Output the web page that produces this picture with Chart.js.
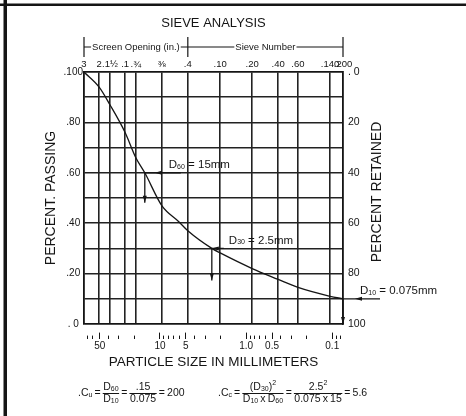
<!DOCTYPE html>
<html>
<head>
<meta charset="utf-8">
<title>Sieve Analysis</title>
<script src="https://cdn.jsdelivr.net/npm/chart.js@4.4.1/dist/chart.umd.min.js"></script>
<style>
  html, body { margin: 0; padding: 0; background: #fff; }
  #wrap { width: 466px; height: 416px; position: relative; }
</style>
</head>
<body>
<div id="wrap"><canvas id="sieve-chart"></canvas></div>
<script>
// =============================
// DATA
// =============================

// particle size (mm) and percent passing
const sizes = [76.2, 50.8, 38.1, 25.4, 19.05, 15, 9.525, 6, 4.75, 2.5, 2.0, 0.85, 0.425, 0.25, 0.106, 0.075];
const passing = [100, 94, 87, 76, 66, 60, 47, 40.5, 37, 30, 28.2, 22, 17.7, 14.5, 11, 10];

// sieve openings (mm) for the vertical grid and their labels on top
const sieveSizes = [76.2, 50.8, 38.1, 25.4, 19.05, 9.525, 4.75, 2.0, 0.85, 0.425, 0.25, 0.106, 0.075];
const sieveLabels = ["3", "2", ".1½", ".1", ".¾", "⅜", ".4", ".10", ".20", ".40", ".60", ".140", ".200"];

// millimetre scale under the plot
const mmTicks = [70, 60, 50, 40, 30, 20, 10, 9, 8, 7, 6, 5, 4, 3, 2, 1, 0.9, 0.8, 0.7, 0.6, 0.5, 0.4, 0.3, 0.2, 0.1, 0.09, 0.08];
const mmMajor = [50, 10, 5, 1, 0.5, 0.1];
const mmLabels = ["50", "10", "5", "1.0", "0.5", "0.1"];

// percent axes
const passingLabels = [". 0", ".20", ".40", ".60", ".80", ".100"];
const retainedLabels = [". 0", "20", "40", "60", "80", "100"];

// D10, D30, D60
const dNames = ["60", "30", "10"];
const dSizes = [15, 2.5, 0.075];
const dPercents = [60, 30, 10];
const dTexts = [" = 15mm", " = 2.5mm", " = 0.075mm"];

// =============================
// STYLE
// =============================

const INK = "#151515";
const GRID = "#222222";
const FONT = "'Liberation Sans', Arial, sans-serif";
const TITLE_PAD = 16;
const TITLE_SIZE = 13;
const EQ = "\u2009=\u2009";
const TIMES = "\u2009x\u2009";

// =============================
// TEXT HELPERS
// =============================

function run(ctx, parts, x, y) {
    parts.forEach(p => {
        ctx.font = p[1] + "px " + FONT;
        ctx.fillText(p[0], x, y + (p[2] || 0));
        x += ctx.measureText(p[0]).width;
    });
    return x;
}

function runWidth(ctx, parts) {
    let w = 0;
    parts.forEach(p => {
        ctx.font = p[1] + "px " + FONT;
        w += ctx.measureText(p[0]).width;
    });
    return w;
}

function frac(ctx, top, bottom, x, y) {
    const wt = runWidth(ctx, top);
    const wb = runWidth(ctx, bottom);
    const w = Math.max(wt, wb) + 1;
    run(ctx, top, x + (w - wt) / 2, y - 6);
    run(ctx, bottom, x + (w - wb) / 2, y + 6);
    ctx.beginPath();
    ctx.moveTo(x, y + 0.5);
    ctx.lineTo(x + w, y + 0.5);
    ctx.stroke();
    return x + w;
}

function arrowHead(ctx, x, y, dir) {
    ctx.beginPath();
    ctx.moveTo(x, y);
    if (dir === "left") {
        ctx.lineTo(x + 7, y - 2);
        ctx.lineTo(x + 7, y + 2);
    } else {
        ctx.lineTo(x - 2, y - 7);
        ctx.lineTo(x + 2, y - 7);
    }
    ctx.closePath();
    ctx.fill();
}

// =============================
// EXTRA DRAWING
// =============================

const sheetPlugin = {
    id: "sheet",
    beforeDraw(chart) {
        const ctx = chart.ctx;
        ctx.save();
        ctx.fillStyle = INK;
        ctx.fillRect(3.5, 0, 3.5, chart.height);
        ctx.fillRect(0, 3.5, chart.width, 2.5);
        ctx.restore();
    },
    afterDraw(chart) {
        const ctx = chart.ctx;
        const xs = chart.scales.xs;
        const x = chart.scales.x;
        const y = chart.scales.y;
        const area = chart.chartArea;

        ctx.save();
        ctx.fillStyle = INK;
        ctx.strokeStyle = INK;
        ctx.textBaseline = "middle";

        // bracket: screen opening / sieve number
        const b0 = xs.getPixelForValue(76.2);
        const b1 = xs.getPixelForValue(4.75);
        const b2 = xs.getPixelForValue(0.075);
        const by = 47;
        ctx.lineWidth = 1.2;
        [b0, b1, b2].forEach(bx => {
            ctx.beginPath();
            ctx.moveTo(bx, by - 10);
            ctx.lineTo(bx, by + 10);
            ctx.stroke();
        });
        ctx.font = "9.5px " + FONT;
        ctx.textAlign = "center";
        [["Screen Opening (in.)", b0, b1], ["Sieve Number", b1, b2]].forEach(s => {
            const w = ctx.measureText(s[0]).width;
            const c = (s[1] + s[2]) / 2;
            ctx.fillText(s[0], c, by);
            ctx.beginPath();
            ctx.moveTo(s[1], by);
            ctx.lineTo(c - w / 2 - 1, by);
            ctx.moveTo(c + w / 2 + 1, by);
            ctx.lineTo(s[2], by);
            ctx.stroke();
        });

        // right axis title, reading upward like the left one
        ctx.save();
        ctx.translate(377, (area.top + area.bottom) / 2 - 6);
        ctx.rotate(-Math.PI / 2);
        ctx.font = "14px " + FONT;
        ctx.fillText("PERCENT RETAINED", 0, 0);
        ctx.restore();

        // D60 / D30 / D10 markers
        const hLen = [36, 12, 37];
        const hHead = [10, 0, 12];
        const vLen = [30, 32, 0];
        ctx.textAlign = "left";
        ctx.lineWidth = 1.3;
        dSizes.forEach((d, i) => {
            const px = x.getPixelForValue(d);
            const py = y.getPixelForValue(dPercents[i]);
            const vEnd = vLen[i] ? py + vLen[i] : area.bottom;
            ctx.beginPath();
            ctx.moveTo(px, py);
            ctx.lineTo(px + hLen[i], py);
            ctx.moveTo(px, py);
            ctx.lineTo(px, vEnd);
            ctx.stroke();
            arrowHead(ctx, px + hHead[i], py, "left");
            arrowHead(ctx, px, vEnd, "down");
            run(ctx, [["D", 11.5], [dNames[i], 7, 2], [dTexts[i], 11.5]], px + 17 + (i === 0 ? 7 : 0), py - 8);
        });

        // uniformity and curvature coefficients
        ctx.lineWidth = 1;
        const fy = 393;
        let fx = 78;
        fx = run(ctx, [[".C", 10.5], ["u", 7, 2], [EQ, 10.5]], fx, fy);
        fx = frac(ctx, [["D", 10.5], ["60", 7, 2]], [["D", 10.5], ["10", 7, 2]], fx, fy);
        fx = run(ctx, [[EQ, 10.5]], fx, fy);
        fx = frac(ctx, [[".15", 10.5]], [["0.075", 10.5]], fx, fy);
        run(ctx, [[EQ + "200", 10.5]], fx, fy);

        fx = 218;
        fx = run(ctx, [[".C", 10.5], ["c", 7, 2], [EQ, 10.5]], fx, fy);
        fx = frac(ctx, [["(D", 10.5], ["30", 7, 2], [")", 10.5], ["2", 7, -4]],
            [["D", 10.5], ["10", 7, 2], [TIMES + "D", 10.5], ["60", 7, 2]], fx, fy);
        fx = run(ctx, [[EQ, 10.5]], fx, fy);
        fx = frac(ctx, [["2.5", 10.5], ["2", 7, -4]], [["0.075" + TIMES + "15", 10.5]], fx, fy);
        run(ctx, [[EQ + "5.6", 10.5]], fx, fy);

        ctx.restore();
    }
};

// =============================
// CHART
// =============================

function renderSieveChart() {

    const ctx = document.getElementById("sieve-chart");

    new Chart(ctx, {
        type: "line",
        data: {
            datasets: [{
                label: "Percent passing",
                data: sizes.map((s, i) => ({ x: s, y: passing[i] })),
                borderColor: INK,
                borderWidth: 1.3,
                pointRadius: 0,
                cubicInterpolationMode: "monotone",
                fill: false,
                xAxisID: "x",
                yAxisID: "y"
            }]
        },
        options: {
            responsive: true,
            maintainAspectRatio: false,
            animation: false,
            layout: { padding: 0 },
            plugins: {
                legend: { display: false },
                tooltip: { enabled: false },
                title: {
                    display: true,
                    fullSize: false,
                    text: "SIEVE ANALYSIS",
                    color: INK,
                    font: { family: FONT, size: TITLE_SIZE, weight: "normal" },
                    padding: { top: TITLE_PAD, bottom: 0 }
                }
            },
            scales: {
                x: {
                    type: "logarithmic",
                    position: "bottom",
                    reverse: true,
                    min: 0.075,
                    max: 76.2,
                    afterBuildTicks: s => { s.ticks = mmTicks.map(v => ({ value: v })); },
                    afterFit: s => { s.height = 92; },
                    grid: {
                        drawOnChartArea: false,
                        drawTicks: true,
                        tickLength: 15,
                        tickColor: INK,
                        tickWidth: 1,
                        tickBorderDash: c => mmMajor.includes(c.tick.value) ? [0, 8, 7] : [0, 11, 4]
                    },
                    border: { display: true, color: INK, width: 1.6 },
                    ticks: {
                        autoSkip: false,
                        maxRotation: 0,
                        padding: 1,
                        color: INK,
                        font: { family: FONT, size: 10 },
                        callback: v => {
                            const k = mmMajor.indexOf(v);
                            return k >= 0 ? mmLabels[k] : "";
                        }
                    },
                    title: {
                        display: true,
                        text: "PARTICLE SIZE IN MILLIMETERS",
                        color: INK,
                        font: { family: FONT, size: 13.5 },
                        padding: { top: 0, bottom: 46 }
                    }
                },
                xs: {
                    type: "logarithmic",
                    position: "top",
                    reverse: true,
                    min: 0.075,
                    max: 76.2,
                    afterBuildTicks: s => { s.ticks = sieveSizes.map(v => ({ value: v })); },
                    afterFit: s => { s.height = 72 - TITLE_PAD - TITLE_SIZE * 1.2; },
                    grid: { color: GRID, lineWidth: 1.6, drawTicks: false },
                    border: { display: true, color: INK, width: 1.6 },
                    ticks: {
                        autoSkip: false,
                        maxRotation: 0,
                        padding: 2,
                        color: INK,
                        font: { family: FONT, size: 9.5 },
                        callback: (v, i) => sieveLabels[i]
                    }
                },
                y: {
                    position: "left",
                    min: 0,
                    max: 100,
                    afterFit: s => { s.width = 84; },
                    grid: { color: GRID, lineWidth: 1.6, drawTicks: false },
                    border: { display: true, color: INK, width: 1.6 },
                    ticks: {
                        stepSize: 10,
                        padding: 1,
                        crossAlign: "center",
                        color: INK,
                        font: { family: FONT, size: 10 },
                        callback: v => v % 20 === 0 ? passingLabels[v / 20] : ""
                    },
                    title: {
                        display: true,
                        text: "PERCENT. PASSING",
                        color: INK,
                        font: { family: FONT, size: 14 },
                        padding: { top: 43, bottom: 0 }
                    }
                },
                yr: {
                    position: "right",
                    min: 0,
                    max: 100,
                    reverse: true,
                    afterFit: s => { s.width = 123; },
                    grid: { drawOnChartArea: false, drawTicks: false },
                    border: { display: true, color: INK, width: 1.6 },
                    ticks: {
                        stepSize: 20,
                        padding: 5,
                        color: INK,
                        font: { family: FONT, size: 10.5 },
                        callback: v => retainedLabels[v / 20]
                    }
                }
            }
        },
        plugins: [sheetPlugin]
    });

}

renderSieveChart();
</script>
</body>
</html>
